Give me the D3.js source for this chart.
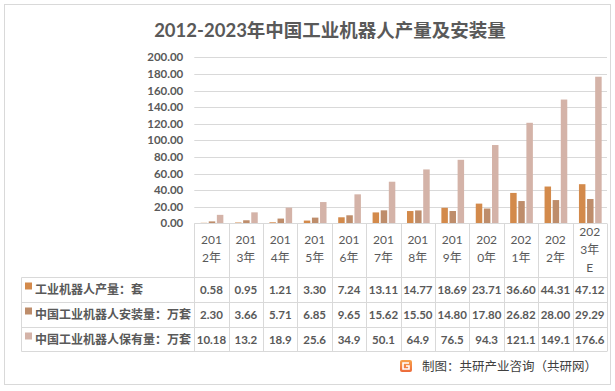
<!DOCTYPE html>
<html><head><meta charset="utf-8">
<script src="https://cdn.jsdelivr.net/npm/d3@7"></script>
<style>
html,body{margin:0;padding:0;background:#fff;}
svg{display:block;font-family:"Lato","Noto Sans CJK SC",sans-serif;}
</style></head>
<body>
<script>
const categories = ["2012年","2013年","2014年","2015年","2016年","2017年","2018年","2019年","2020年","2021年","2022年","2023年E"];
const headerLines = [["201","2年"],["201","3年"],["201","4年"],["201","5年"],["201","6年"],["201","7年"],["201","8年"],["201","9年"],["202","0年"],["202","1年"],["202","2年"],["202","3年","E"]];
const seriesNames = ["工业机器人产量：套","中国工业机器人安装量：万套","中国工业机器人保有量：万套"];
const production = [0.58,0.95,1.21,3.30,7.24,13.11,14.77,18.69,23.71,36.60,44.31,47.12];
const installs = [2.30,3.66,5.71,6.85,9.65,15.62,15.50,14.80,17.80,26.82,28.00,29.29];
const stock = [10.18,13.2,18.9,25.6,34.9,50.1,64.9,76.5,94.3,121.1,149.1,176.6];
const stockLabels = ["10.18","13.2","18.9","25.6","34.9","50.1","64.9","76.5","94.3","121.1","149.1","176.6"];
const yTicks = [0,20,40,60,80,100,120,140,160,180,200];
const colors = ["#D38A4B","#BE8D6B","#D4B3A8"];

const W = 615, H = 391;
const svg = d3.select("body").append("svg").attr("width", W).attr("height", H);

// outer border
svg.append("rect").attr("x",4.5).attr("y",4.5).attr("width",606).attr("height",380)
  .attr("fill","#fff").attr("stroke","#d9d9d9").attr("stroke-width",1);

// title
svg.append("text").attr("x",330).attr("y",37).attr("text-anchor","middle")
  .attr("font-size",18.5).attr("font-weight","bold").attr("fill","#595959")
  .text("2012-2023年中国工业机器人产量及安装量");

const x0 = 194.3, x1 = 607;
const yTop = 57.3, yBot = 223.3;
const x = d3.scaleBand().domain(categories).range([x0,x1]).padding(0);
const y = d3.scaleLinear().domain([0,200]).range([yBot,yTop]);
const xs = d3.scaleBand().domain([0,1,2]).range([0,x.bandwidth()]).paddingInner(0.2).paddingOuter(0.72);

// gridlines
svg.append("g").selectAll("line").data(yTicks.filter(d=>d>0)).join("line")
  .attr("x1",x0).attr("x2",x1).attr("y1",d=>Math.round(y(d))+0.5).attr("y2",d=>Math.round(y(d))+0.5)
  .attr("stroke","#d9d9d9").attr("stroke-width",1);

// y axis labels via d3 axis
const yAxis = svg.append("g").attr("transform",`translate(${x0-11},0)`)
  .call(d3.axisLeft(y).tickValues(yTicks).tickFormat(d=>d.toFixed(2)).tickSize(0).tickPadding(0));
yAxis.select(".domain").remove();
yAxis.selectAll("text").attr("font-size",11.5).attr("font-weight","bold").attr("fill","#595959")
  .attr("font-family","Lato, 'Noto Sans CJK SC', sans-serif");

// bars
const series = [production, installs, stock];
series.forEach((vals,si)=>{
  svg.append("g").selectAll("rect").data(vals).join("rect")
    .attr("x",(d,i)=>x(categories[i])+xs(si)+0.5)
    .attr("width",xs.bandwidth())
    .attr("y",d=>y(d))
    .attr("height",d=>yBot-y(d))
    .attr("fill",colors[si]);
});

// table
const tbl = svg.append("g").attr("stroke","#d9d9d9").attr("stroke-width",1);
tbl.append("line").attr("x1",x0).attr("x2",x1).attr("y1",223.5).attr("y2",223.5);
[277,302,327,351].forEach(yy=>{
  tbl.append("line").attr("x1",21.5).attr("x2",x1).attr("y1",yy+0.5).attr("y2",yy+0.5);
});
d3.range(categories.length+1).forEach(i=>{
  const xx = Math.round(x0 + i*x.bandwidth())+0.5;
  tbl.append("line").attr("x1",xx).attr("x2",xx).attr("y1",223.5).attr("y2",351.5);
});
tbl.append("line").attr("x1",21.5).attr("x2",21.5).attr("y1",277.5).attr("y2",351.5);

// header labels
headerLines.forEach((lines,i)=>{
  const cx = x(categories[i]) + x.bandwidth()/2;
  const startY = lines.length===3 ? 236 : 244;
  lines.forEach((t,j)=>{
    svg.append("text").attr("x",cx).attr("y",startY + j*18).attr("text-anchor","middle")
      .attr("font-size",12).attr("fill","#595959").text(t);
  });
});

// legend rows
const rowCenters = [289.5, 314.5, 339.5];
seriesNames.forEach((n,si)=>{
  svg.append("rect").attr("x",25).attr("y",rowCenters[si]-7).attr("width",7).attr("height",7).attr("fill",colors[si]);
  svg.append("text").attr("x",35).attr("y",rowCenters[si]+4.5).attr("font-size",12).attr("font-weight","bold")
    .attr("fill","#595959").text(n);
});

// values
const valueLabels = [production.map(d=>d.toFixed(2)), installs.map(d=>d.toFixed(2)), stockLabels];
valueLabels.forEach((vals,si)=>{
  vals.forEach((v,i)=>{
    svg.append("text").attr("x",x(categories[i])+x.bandwidth()/2).attr("y",rowCenters[si]+4.5)
      .attr("text-anchor","middle").attr("font-size",11.5).attr("font-weight","bold").attr("fill","#595959").text(v);
  });
});

// footer logo + source
const defs = svg.append("defs");
const grad = defs.append("linearGradient").attr("id","lg").attr("x1",0).attr("y1",0).attr("x2",0).attr("y2",1);
grad.append("stop").attr("offset","0%").attr("stop-color","#F7A24A");
grad.append("stop").attr("offset","100%").attr("stop-color","#EC6A3B");
svg.append("rect").attr("x",400).attr("y",360).attr("width",12).attr("height",12).attr("rx",2).attr("fill","url(#lg)");
svg.append("path").attr("d","M409,363 H403 V369 H409 V366 H406").attr("fill","none").attr("stroke","#fff").attr("stroke-width",1.6);
svg.append("text").attr("x",422).attr("y",370.5).attr("font-size",12.5).attr("fill","#404040")
  .attr("font-family","'Noto Sans CJK SC', sans-serif").text("制图：共研产业咨询（共研网）");
</script>
</body></html>
